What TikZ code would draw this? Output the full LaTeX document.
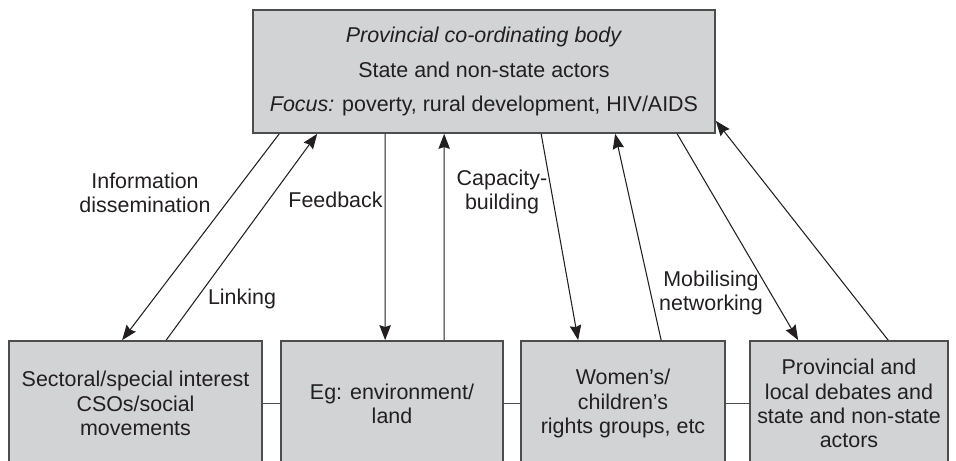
\documentclass[tikz,border=0pt]{standalone}
\usepackage{fontspec}
\setmainfont{Liberation Sans}
\usetikzlibrary{arrows.meta,calc}
\definecolor{boxfill}{HTML}{D1D3D4}
\definecolor{boxline}{HTML}{4D4D4D}
\definecolor{ink}{HTML}{231F20}
\tikzset{
  boxnode/.style={draw=boxline, fill=boxfill, line width=1pt, inner sep=0pt,
    align=center, text=ink, font=\fontsize{12.2}{13.8}\selectfont},
  lbl/.style={align=center, text=ink, inner sep=0pt, font=\fontsize{12.2}{13.6}\selectfont},
  arr/.style={draw=ink, line width=0.6pt, -{Stealth[length=8.5pt,width=6.5pt,inset=1pt]}},
  link/.style={draw=boxline, line width=0.9pt}
}
\begin{document}
\begin{tikzpicture}[x=0.02cm,y=-0.02cm]
\useasboundingbox (0,0) rectangle (956,460);
\clip (0,0) rectangle (956,460);
% top box
\node[boxnode, minimum width=9.24cm, minimum height=2.46cm,
  font=\fontsize{12.2}{19.8}\selectfont] (top) at (484,71.5)
  {\textit{Provincial co-ordinating body}\\State and non-state actors\\\textit{Focus:} poverty, rural development, HIV/AIDS};
% bottom boxes
\node[boxnode, minimum width=5.06cm, minimum height=2.5cm] (b1) at (135.5,403.5)
  {Sectoral/special interest\\CSOs/social\\movements};
\node[boxnode, minimum width=4.44cm, minimum height=2.5cm] (b2) at (392,403.5)
  {Eg: environment/\\land};
\node[boxnode, minimum width=4.08cm, minimum height=2.5cm] (b3) at (623,403.5)
  {Women’s/\\children’s\\rights groups, etc};
\node[boxnode, minimum width=3.96cm, minimum height=2.5cm] (b4) at (849,403.5)
  {Provincial and\\local debates and\\state and non-state\\actors};
% links between bottom boxes
\draw[link] (b1) -- (b2);
\draw[link] (b2) -- (b3);
\draw[link] (b3) -- (b4);
% arrow end points
\coordinate (t1) at ($(top.south west)+(27,0)$);
\coordinate (t2) at ($(top.south west)+(65,0)$);
\coordinate (t3) at ($(top.south west)+(133,0)$);
\coordinate (t4) at ($(top.south west)+(192,0)$);
\coordinate (t5) at ($(top.south west)+(289,0)$);
\coordinate (t6) at ($(top.south west)+(363,0)$);
\coordinate (t7) at ($(top.south west)+(425,0)$);
\coordinate (t8) at ($(top.south east)+(0,-13)$);
\coordinate (s1) at ($(b1.north west)+(114,0)$);
\coordinate (s2) at ($(b1.north west)+(158,0)$);
\coordinate (s3) at ($(b2.north west)+(105,0)$);
\coordinate (s4) at ($(b2.north west)+(164,0)$);
\coordinate (s5) at ($(b3.north west)+(58,0)$);
\coordinate (s6) at ($(b3.north west)+(141,0)$);
\coordinate (s7) at ($(b4.north west)+(49,0)$);
\coordinate (s8) at ($(b4.north west)+(139,0)$);
\draw[arr] (t1) -- (s1);
\draw[arr] (s2) -- (t2);
\draw[arr] (t3) -- (s3);
\draw[arr] (s4) -- (t4);
\draw[arr] (t5) -- (s5);
\draw[arr] (s6) -- (t6);
\draw[arr] (t7) -- (s7);
\draw[arr] (s8) -- (t8);
% labels
\node[lbl] (linfo) at (145,193) {Information\\dissemination};
\node[lbl] (lfeed) at (335.5,200) {Feedback};
\node[lbl] (llink) at (242,299) {Linking};
\node[lbl] (lcap) at (502,192) {Capacity-\\building};
\node[lbl] (lmob) at (711,293) {Mobilising\\networking};
\end{tikzpicture}
\end{document}
